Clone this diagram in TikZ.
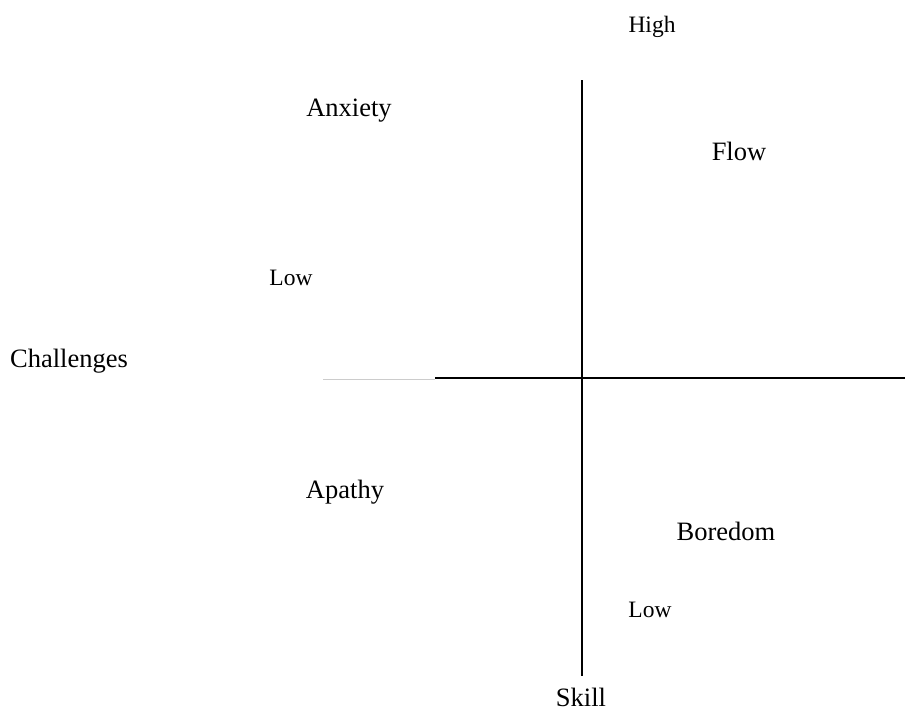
\documentclass[tikz,border=0pt]{standalone}
\usepackage{fontspec}
\setmainfont{Liberation Serif}
\usepackage{tikz}
\definecolor{lightgray}{gray}{0.8}
\def\bigtext{\fontsize{13.25pt}{15pt}\selectfont}
\def\smalltext{\fontsize{11.75pt}{14pt}\selectfont}
\def\canvas{(0,0) rectangle (905,713)}

\begin{document}
\begin{tikzpicture}[x=0.5pt,y=-0.5pt,
    label/.style={anchor=base,inner sep=0pt,font=\bigtext},
    level/.style={anchor=base,inner sep=0pt,font=\smalltext}]
\useasboundingbox \canvas;
% axes
\coordinate (top) at (582,80);
\coordinate (bottom) at (582,676);
\coordinate (left) at (323,379);
\coordinate (mid) at (435,379);
\coordinate (right) at (905,378);
\draw[lightgray,line width=0.5pt] (left) -- (mid);
\draw[line width=1pt] (mid |- right) -- (right);
\draw[line width=1pt] (top) -- (bottom);
% quadrants
\node[label] (anxiety) at (349,116) {Anxiety};
\node[label] (flow) at (739,160) {Flow};
\node[label] (apathy) at (345,498) {Apathy};
\node[label] (boredom) at (726,540) {Boredom};
% axis names
\node[label] (challenges) at (69,367) {Challenges};
\node[label] (skill) at (581,706) {Skill};
\node[level] (high) at (652,32) {High};
\node[level] (lowc) at (291,285) {Low};
\node[level] (lows) at (650,617) {Low};
\end{tikzpicture}
\end{document}
